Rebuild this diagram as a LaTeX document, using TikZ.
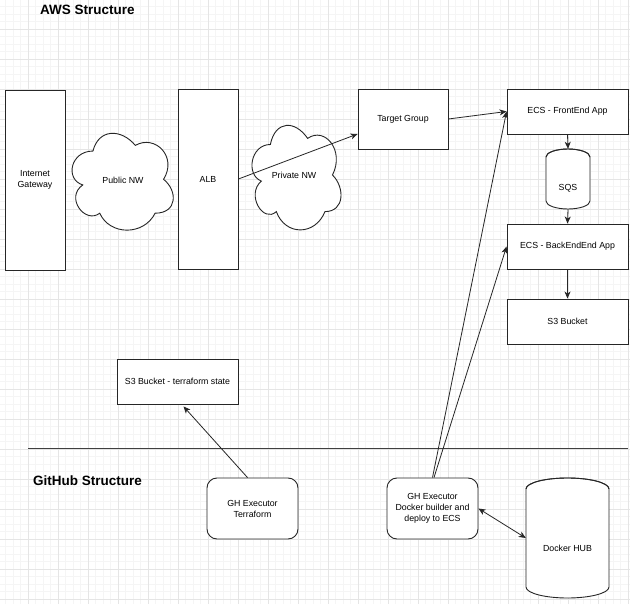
\documentclass[tikz,border=0pt]{standalone}
\usepackage{fontspec}
\setmainfont{Liberation Sans}
\usetikzlibrary{arrows.meta,calc}
\tikzset{
  gminor/.style={draw=black!4, line width=0.45pt},
  gmajor/.style={draw=black!10, line width=0.55pt},
  box/.style={draw=black!85, line width=0.9pt, fill=white, inner sep=0pt, align=center,
              font=\fontsize{8.8}{11}\selectfont},
  rbox/.style={box, rounded corners=10pt},
  lbl/.style={inner sep=0pt, align=center, font=\fontsize{8.8}{11}\selectfont},
  ttl/.style={inner sep=0pt, anchor=west, font=\fontsize{13.5}{16}\selectfont\bfseries},
  outl/.style={draw=black!85, line width=0.9pt, fill=white},
  arr/.style={draw=black!85, line width=0.8pt, -{Stealth[length=7pt,width=6pt,inset=2pt]}},
  darr/.style={draw=black!85, line width=0.8pt, {Stealth[length=7pt,width=6pt,inset=2pt]}-{Stealth[length=7pt,width=6pt,inset=2pt]}},
  sep/.style={draw=black!75, line width=0.9pt}
}
\newcommand{\ddcloud}[4]{%
  \begin{scope}[shift={(#1,#2)}, x=#3pt, y=-#4pt]
    \draw[outl] (0.25,0.25) .. controls (0.05,0.25) and (0,0.5) .. (0.16,0.55)
      .. controls (0,0.66) and (0.18,0.9) .. (0.31,0.8)
      .. controls (0.4,1) and (0.7,1) .. (0.8,0.8)
      .. controls (1,0.8) and (1,0.6) .. (0.875,0.5)
      .. controls (1,0.3) and (0.8,0.1) .. (0.625,0.2)
      .. controls (0.5,0.05) and (0.3,0.05) .. (0.25,0.25) -- cycle;
  \end{scope}}
\newcommand{\ddcyl}[5]{% left top width height ry
  \draw[outl] (#1,#2+#5) -- (#1,#2+#4-#5) arc[start angle=180, end angle=360, x radius=#3/2, y radius=-#5]
     -- (#1+#3,#2+#5) arc[start angle=0, end angle=180, x radius=#3/2, y radius=-#5] -- cycle;
  \draw[draw=black!85, line width=0.9pt] (#1,#2+#5) arc[start angle=180, end angle=360, x radius=#3/2, y radius=#5];}
\begin{document}
\begin{tikzpicture}[x=1pt, y=-1pt]
\useasboundingbox (0,0) rectangle (630,604);
\clip (0,0) rectangle (630,604);
\fill[white] (0,0) rectangle (630,604);
% grid
\foreach \i in {0,...,84} {\draw[gminor] ({-2+7.5*\i},0) -- ({-2+7.5*\i},604);}
\foreach \j in {0,...,81} {\draw[gminor] (0,{-1+7.5*\j}) -- (630,{-1+7.5*\j});}
\foreach \i in {0,...,21} {\draw[gmajor] ({-2+30*\i},0) -- ({-2+30*\i},604);}
\foreach \j in {0,...,20} {\draw[gmajor] (0,{-1+30*\j}) -- (630,{-1+30*\j});}

% titles
\node[ttl] (awst) at (40,10) {AWS Structure};
\node[ttl] (ght_t) at (33,481) {GitHub Structure};

% AWS part
\node[box, minimum width=60pt, minimum height=180pt] (ig) at (35,180) {Internet\\Gateway};
\ddcloud{64.7}{122.8}{113}{113}
\node[lbl] (pub) at (123,180) {Public NW};
\node[box, minimum width=60pt, minimum height=180pt] (alb) at (208,179) {ALB};
\ddcloud{245.5}{114}{99.4}{122}
\node[lbl] (priv) at (294,175) {Private NW};
\node[box, minimum width=90pt, minimum height=60pt] (tg) at (403,119) {Target Group};
\node[box, minimum width=121pt, minimum height=45pt] (fe) at (567.5,111.5) {ECS - FrontEnd App};
\ddcyl{546}{149}{44}{60}{8}
\node[inner sep=0pt, minimum width=44pt, minimum height=60pt] (sqs) at (568,179) {};
\node[lbl] (sqst) at (568,188) {SQS};
\node[box, minimum width=121pt, minimum height=45pt] (be) at (567.5,246.5) {ECS - BackEndEnd App};
\node[box, minimum width=121pt, minimum height=45pt] (s3) at (567.5,321.5) {S3 Bucket};
\node[box, minimum width=121pt, minimum height=45pt] (tfs) at (177.5,381.5) {S3 Bucket - terraform state};

% divider
\coordinate (dl) at (28,448);
\coordinate (dr) at (628,448);
\draw[sep] (dl) -- (dr);

% GitHub part
\node[rbox, minimum width=91pt, minimum height=61pt] (ght) at (252.5,508.5) {GH Executor\\Terraform};
\node[rbox, minimum width=91pt, minimum height=61pt] (ghd) at (432.5,508.5) {GH Executor\\Docker builder and\\deploy to ECS};
\ddcyl{526}{478}{83}{120}{11}
\node[inner sep=0pt, minimum width=83pt, minimum height=120pt] (hub) at (567.5,538) {};
\node[lbl] (hubt) at (567.5,548) {Docker HUB};

% connectors
\draw[arr] (alb.east) -- ($(tg.west)+(0,15)$);
\draw[arr] (tg.east) -- (fe.west);
\draw[arr] (ghd.north) -- (fe.west);
\draw[arr] ($(ghd.north)+(1.5,0)$) -- (be.west);
\draw[arr] (fe.south) -- (sqs.north);
\draw[arr] (sqs.south) -- (be.north);
\draw[arr] (be.south) -- (s3.north);
\draw[arr] ($(ght.north)+(-5,0)$) -- ($(tfs.south)+(6,2)$);
\draw[darr] (ghd.east) -- (hub.west);
\end{tikzpicture}
\end{document}
